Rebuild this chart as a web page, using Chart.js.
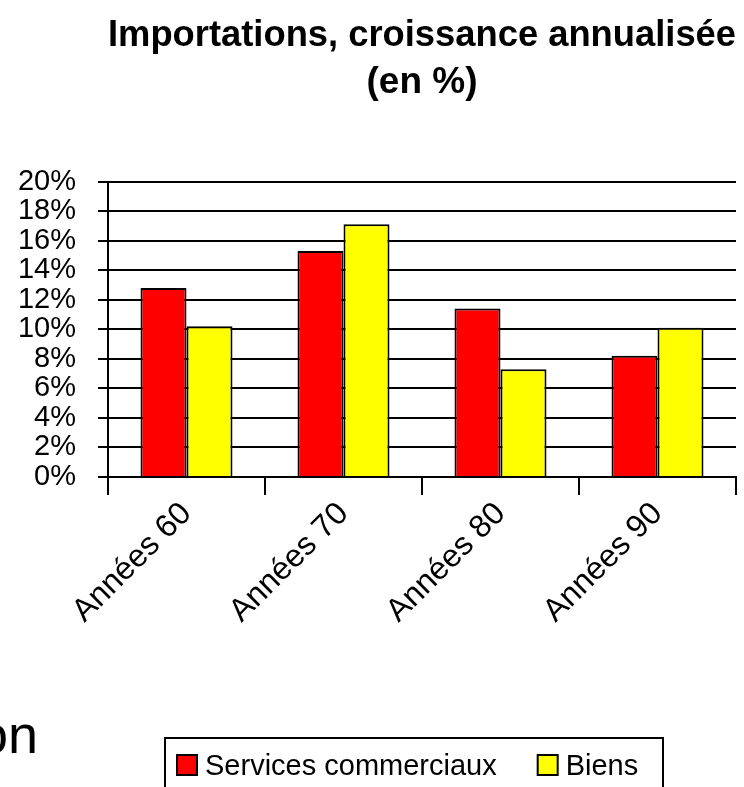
<!DOCTYPE html>
<html>
<head>
<meta charset="utf-8">
<script src="https://cdn.jsdelivr.net/npm/chart.js@4"></script>
<style>
  html, body { margin: 0; padding: 0; background: #fff; }
  #wrap { width: 744px; height: 787px; position: relative; }
</style>
</head>
<body>
<div id="wrap"><canvas id="importChart" width="744" height="787"></canvas></div>
<script>
const categories = ['Années 60', 'Années 70', 'Années 80', 'Années 90'];
const servicesCommerciaux = [12.8, 15.3, 11.4, 8.2];
const biens = [10.2, 17.1, 7.3, 10.1];
const seriesNames = ['Services commerciaux', 'Biens'];
const titleLines = ['Importations, croissance annualisée', '(en %)'];
const yMin = 0, yMax = 20, yStep = 2;

// boxed legend at the bottom + the clipped "on" at left
const boxLegend = {
  id: 'boxLegend',
  afterDraw(chart) {
    const ctx = chart.ctx;
    ctx.save();
    ctx.fillStyle = '#000';
    ctx.font = '54px "Liberation Sans", Arial, sans-serif';
    ctx.textBaseline = 'alphabetic';
    ctx.fillText('on', -22, 753);

    ctx.lineWidth = 2;
    ctx.strokeStyle = '#000';
    ctx.strokeRect(165, 738, 498, 100);

    ctx.font = '29px "Liberation Sans", Arial, sans-serif';
    let x = 177;
    chart.data.datasets.forEach(ds => {
      ctx.fillStyle = ds.backgroundColor;
      ctx.fillRect(x, 755, 20, 20);
      ctx.strokeRect(x, 755, 20, 20);
      ctx.fillStyle = '#000';
      ctx.fillText(ds.label, x + 28, 775);
      x += 28 + ctx.measureText(ds.label).width + 41;
    });
    ctx.restore();
  }
};

const ctx = document.getElementById('importChart').getContext('2d');
const importChart = new Chart(ctx, {
  type: 'bar',
  data: {
    labels: categories,
    datasets: [
      { label: seriesNames[0], data: servicesCommerciaux, backgroundColor: '#ff0000', borderColor: '#000', borderWidth: 2 },
      { label: seriesNames[1], data: biens, backgroundColor: '#ffff00', borderColor: '#000', borderWidth: 2 }
    ]
  },
  options: {
    responsive: false,
    animation: false,
    layout: { padding: { left: 0, right: 8, top: 0, bottom: 0 } },
    datasets: { bar: { categoryPercentage: 0.586, barPercentage: 1.0 } },
    plugins: {
      legend: { display: false },
      tooltip: { enabled: false },
      title: {
        display: true,
        text: titleLines,
        fullSize: false,
        color: '#000',
        font: { family: '"Liberation Sans", Arial, sans-serif', size: 37, weight: 'bold', lineHeight: 1.25 },
        padding: { top: 13, bottom: 76 }
      }
    },
    scales: {
      x: {
        grid: { display: true, drawOnChartArea: false, drawTicks: true, tickLength: 18, color: '#000', lineWidth: 2, offset: true },
        border: { display: true, color: '#000', width: 2 },
        ticks: {
          color: '#000', autoSkip: false, minRotation: 45, maxRotation: 45, padding: 0,
          font: { family: '"Liberation Sans", Arial, sans-serif', size: 32 }
        },
        afterFit(s) { s.height = 310; }
      },
      y: {
        min: yMin, max: yMax,
        grid: { color: '#000', lineWidth: 2, tickLength: 10 },
        border: { display: true, color: '#000', width: 2 },
        ticks: {
          stepSize: yStep, autoSkip: false, color: '#000', padding: 22,
          font: { family: '"Liberation Sans", Arial, sans-serif', size: 29 },
          callback: v => v + '%'
        },
        afterFit(s) { s.width = 108; }
      }
    }
  },
  plugins: [boxLegend]
});
</script>
</body>
</html>
